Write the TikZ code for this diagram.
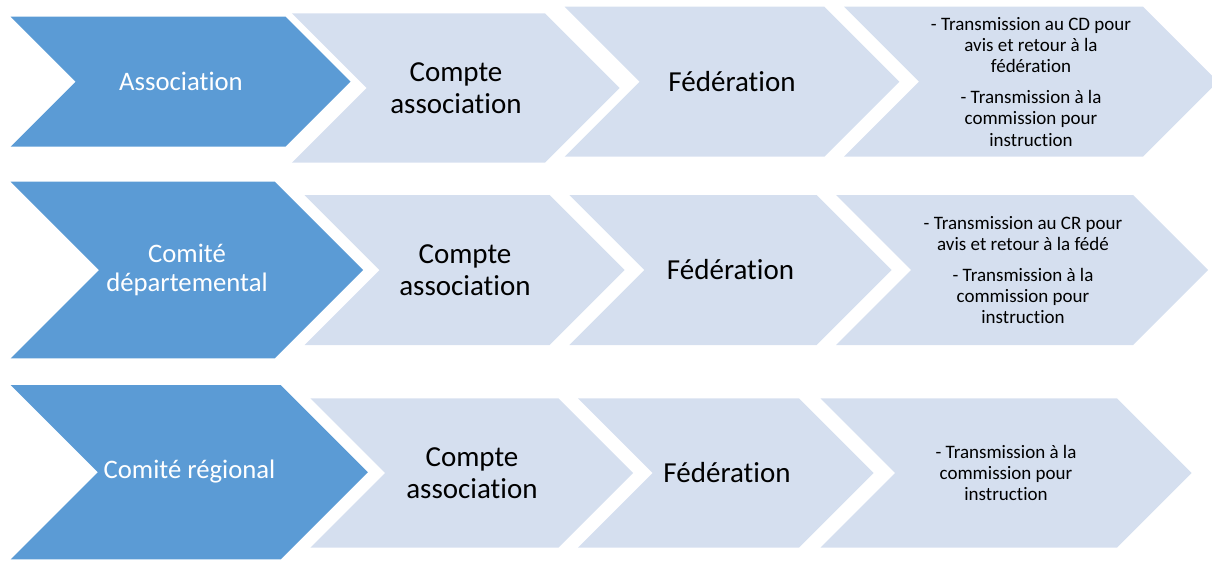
\documentclass[tikz,border=0pt]{standalone}
\usepackage{fontspec}
\setmainfont{Carlito}[Ligatures=NoCommon]
\definecolor{darkblue}{HTML}{5B9BD5}
\definecolor{lightblue}{HTML}{D5DFEF}
\newcommand\chevshape[5]{% colour, x left, x top-right, y top, y bottom
  \fill[#1] (#2,#4) -- (#3,#4) -- ({#3+(#5-#4)/2},{(#4+#5)/2}) -- (#3,#5) -- (#2,#5)
    -- ({#2+(#5-#4)/2},{(#4+#5)/2}) -- cycle;}
\tikzset{
  headtxt/.style={text=white, align=center, inner sep=0pt, font=\fontsize{26.7}{29}\selectfont},
  bigtxt/.style={text=black, align=center, inner sep=0pt, font=\fontsize{29}{31.5}\selectfont},
  smalltxt/.style={text=black, align=center, inner sep=0pt, font=\fontsize{19}{21.3}\selectfont}
}
\begin{document}
\begin{tikzpicture}[x=1pt, y=-1pt]
\useasboundingbox (0,0) rectangle (1212,560);
\clip (0,0) rectangle (1212,560);
% Row 1
\chevshape{darkblue}{10.7}{285.5}{16.7}{146.7}
\chevshape{lightblue}{291.8}{545}{13.3}{162.7}
\chevshape{lightblue}{564.6}{824.4}{6.7}{156.7}
\chevshape{lightblue}{844}{1143}{6.7}{156.7}
\node[headtxt] (a1) at (181,81.7) {Association};
\node[bigtxt] (b1) at (456,88) {Compte\\association};
\node[bigtxt] (c1) at (732,81.7) {Fédération};
\node[smalltxt] (d1) at (1031,81.7) {- Transmission au CD pour\\avis et retour à la\\fédération\\[9.5pt]- Transmission à la\\commission pour\\instruction};
% Row 2
\chevshape{darkblue}{10.7}{274.8}{181.7}{358.3}
\chevshape{lightblue}{304.5}{549.6}{195}{345}
\chevshape{lightblue}{569.4}{816.6}{195}{345}
\chevshape{lightblue}{836}{1133}{195}{345}
\node[headtxt] (a2) at (187,270) {Comité\\départemental};
\node[bigtxt] (b2) at (465,270) {Compte\\association};
\node[bigtxt] (c2) at (730.5,270) {Fédération};
\node[smalltxt] (d2) at (1023,270) {- Transmission au CR pour\\avis et retour à la fédé\\[9.5pt]- Transmission à la\\commission pour\\instruction};
% Row 3
\chevshape{darkblue}{10.7}{280.7}{385}{559.3}
\chevshape{lightblue}{310.4}{558.3}{398.3}{547.7}
\chevshape{lightblue}{578}{799}{398.3}{547.7}
\chevshape{lightblue}{820.5}{1117}{398.3}{547.7}
\node[headtxt] (a3) at (189.5,472) {Comité régional};
\node[bigtxt] (b3) at (472,473) {Compte\\association};
\node[bigtxt] (c3) at (727,473) {Fédération};
\node[smalltxt] (d3) at (1006,473) {- Transmission à la\\commission pour\\instruction};
\end{tikzpicture}
\end{document}
